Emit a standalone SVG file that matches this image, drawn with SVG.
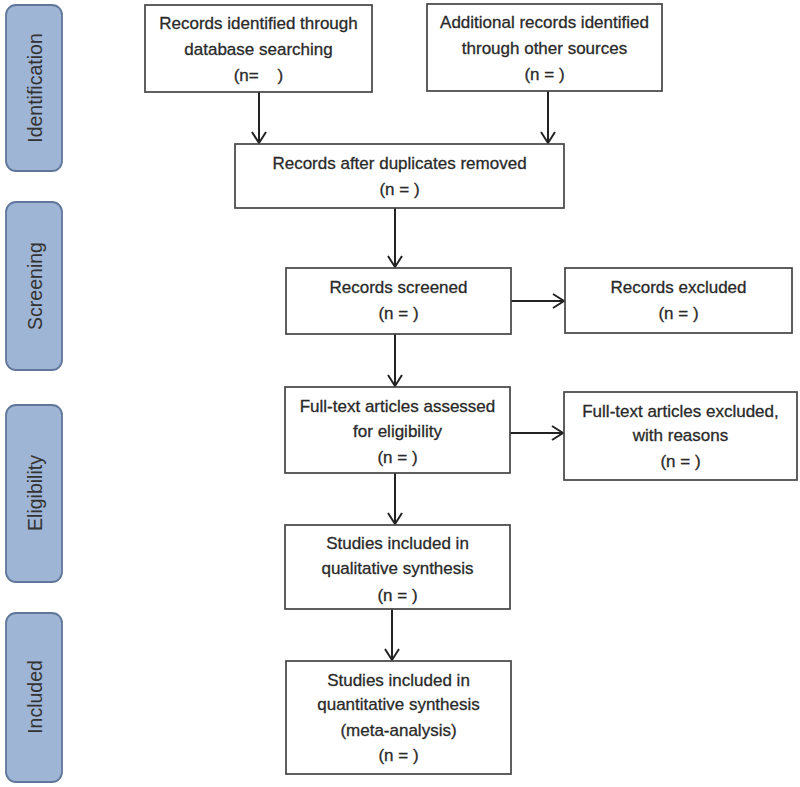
<svg xmlns="http://www.w3.org/2000/svg" width="800" height="787" viewBox="0 0 800 787">
<defs>
<style>
.phase{fill:#9fb5d5;stroke:#60769a;stroke-width:1.8}
.box{fill:#fff;stroke:#444;stroke-width:1.7}
.t{font-family:"Liberation Sans",Arial,sans-serif;font-size:17px;fill:#2a2a2a;stroke:#2a2a2a;stroke-width:0.3;text-anchor:middle;white-space:pre}
.pt{font-family:"Liberation Sans",Arial,sans-serif;font-size:19.5px;fill:#333;text-anchor:middle}
.conn{stroke:#222;stroke-width:2;fill:none;marker-end:url(#arr)}
</style>
<marker id="arr" markerUnits="userSpaceOnUse" markerWidth="18" markerHeight="18" viewBox="-14 -9 16 18" refX="0" refY="0" orient="auto">
<path d="M-11,-7 L0,0 L-11,7" fill="none" stroke="#222" stroke-width="2"/>
</marker>
</defs>
<rect width="800" height="787" fill="#fff"/>

<g id="phase-identification">
<rect class="phase" x="6" y="5" width="56" height="166" rx="10"/>
<text class="pt" transform="translate(42,88) rotate(-90)">Identification</text>
</g>
<g id="phase-screening">
<rect class="phase" x="6" y="202" width="56" height="168" rx="10"/>
<text class="pt" transform="translate(42,286) rotate(-90)">Screening</text>
</g>
<g id="phase-eligibility">
<rect class="phase" x="6" y="405" width="56" height="177" rx="10"/>
<text class="pt" transform="translate(42,493) rotate(-90)">Eligibility</text>
</g>
<g id="phase-included">
<rect class="phase" x="6" y="613" width="56" height="169" rx="10"/>
<text class="pt" transform="translate(42,697) rotate(-90)">Included</text>
</g>

<g id="connectors">
<line class="conn" x1="259" y1="92" x2="259" y2="143"/>
<line class="conn" x1="548" y1="91" x2="548" y2="143"/>
<line class="conn" x1="395" y1="208" x2="395" y2="267"/>
<line class="conn" x1="511" y1="301" x2="564" y2="301"/>
<line class="conn" x1="395" y1="334" x2="395" y2="386"/>
<line class="conn" x1="510" y1="433" x2="563" y2="433"/>
<line class="conn" x1="395" y1="473" x2="395" y2="524"/>
<line class="conn" x1="392" y1="609" x2="392" y2="660"/>
</g>

<g id="db-search">
<rect class="box" x="145" y="5" width="227" height="87"/>
<text class="t" x="258.5" y="29">Records identified through</text>
<text class="t" x="258.5" y="55">database searching</text>
<text class="t" x="258.5" y="81">(n=    )</text>
</g>
<g id="other-sources">
<rect class="box" x="427" y="4" width="235" height="87"/>
<text class="t" x="544.5" y="28">Additional records identified</text>
<text class="t" x="544.5" y="54">through other sources</text>
<text class="t" x="544.5" y="80">(n = )</text>
</g>
<g id="duplicates-removed">
<rect class="box" x="235" y="144" width="329" height="64"/>
<text class="t" x="399.5" y="169">Records after duplicates removed</text>
<text class="t" x="399.5" y="195">(n = )</text>
</g>
<g id="screened">
<rect class="box" x="286" y="268" width="225" height="66"/>
<text class="t" x="398.5" y="293">Records screened</text>
<text class="t" x="398.5" y="319">(n = )</text>
</g>
<g id="excluded">
<rect class="box" x="565" y="268" width="227" height="65"/>
<text class="t" x="678.5" y="293">Records excluded</text>
<text class="t" x="678.5" y="319">(n = )</text>
</g>
<g id="fulltext-assessed">
<rect class="box" x="285" y="387" width="225" height="86"/>
<text class="t" x="397.5" y="412">Full-text articles assessed</text>
<text class="t" x="397.5" y="437">for eligibility</text>
<text class="t" x="397.5" y="463">(n = )</text>
</g>
<g id="fulltext-excluded">
<rect class="box" x="564" y="392" width="233" height="88"/>
<text class="t" x="680.5" y="417">Full-text articles excluded,</text>
<text class="t" x="680.5" y="441">with reasons</text>
<text class="t" x="680.5" y="467">(n = )</text>
</g>
<g id="qualitative">
<rect class="box" x="285" y="525" width="225" height="84"/>
<text class="t" x="397.5" y="549">Studies included in</text>
<text class="t" x="397.5" y="574">qualitative synthesis</text>
<text class="t" x="397.5" y="601">(n = )</text>
</g>
<g id="quantitative">
<rect class="box" x="286" y="661" width="225" height="113"/>
<text class="t" x="398.5" y="686">Studies included in</text>
<text class="t" x="398.5" y="710">quantitative synthesis</text>
<text class="t" x="398.5" y="736">(meta-analysis)</text>
<text class="t" x="398.5" y="761">(n = )</text>
</g>
</svg>
